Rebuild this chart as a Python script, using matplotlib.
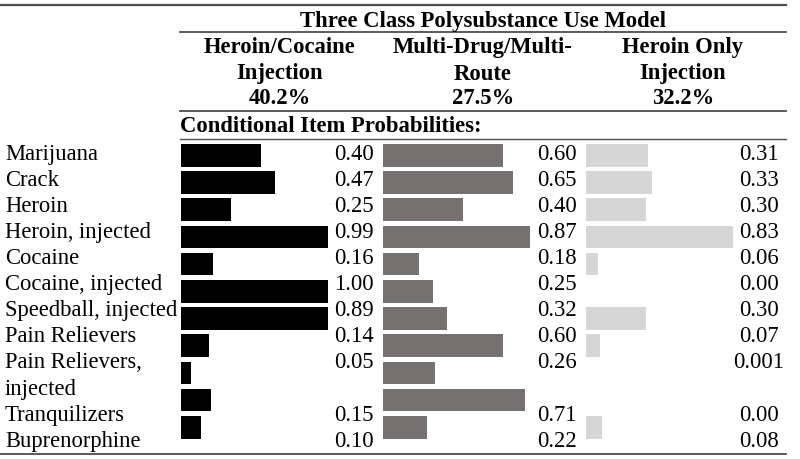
"""
plot.py - three class polysubstance use model, conditional item probabilities
drawn as a table with bars in each class column
"""

import matplotlib
matplotlib.use("Agg")
import matplotlib.pyplot as plt

plt.rcParams["font.family"] = ["Liberation Serif", "DejaVu Serif"]

TITLE = "Three Class Polysubstance Use Model"
SUBTITLE = "Conditional Item Probabilities:"
CLASS_NAMES = ["Heroin/Cocaine\nInjection", "Multi-Drug/Multi-\nRoute", "Heroin Only\nInjection"]
CLASS_PCT = ["40.2%", "27.5%", "32.2%"]
ITEMS = ["Marijuana", "Crack", "Heroin", "Heroin, injected", "Cocaine",
         "Cocaine, injected", "Speedball, injected", "Pain Relievers",
         "Pain Relievers,\ninjected", "Tranquilizers", "Buprenorphine"]

heroin_cocaine = [0.40, 0.47, 0.25, 0.99, 0.16, 1.00, 0.89, 0.14, 0.05, 0.15, 0.10]
multi_drug = [0.60, 0.65, 0.40, 0.87, 0.18, 0.25, 0.32, 0.60, 0.26, 0.71, 0.22]
heroin_only = [0.31, 0.33, 0.30, 0.83, 0.06, 0.00, 0.30, 0.07, 0.001, 0.00, 0.08]
value_text = [
    ["0.40", "0.47", "0.25", "0.99", "0.16", "1.00", "0.89", "0.14", "0.05", "0.15", "0.10"],
    ["0.60", "0.65", "0.40", "0.87", "0.18", "0.25", "0.32", "0.60", "0.26", "0.71", "0.22"],
    ["0.31", "0.33", "0.30", "0.83", "0.06", "0.00", "0.30", "0.07", "0.001", "0.00", "0.08"],
]

COLORS = ["#000000", "#767171", "#d6d6d6"]

W, H = 800, 459
FS = 16.3
LINE_C = "#4d4d4d"

fig = plt.figure(figsize=(W / 100, H / 100), dpi=100)
ax = fig.add_axes([0, 0, 1, 1])
ax.set_xlim(0, W)
ax.set_ylim(H, 0)
ax.axis("off")

# ── rules ──
ax.plot([0, 786], [5, 5], color=LINE_C, lw=1.6)
ax.plot([180, 786], [32, 32], color=LINE_C, lw=1.3)
ax.plot([180, 786], [111, 111], color=LINE_C, lw=1.3)
ax.plot([180, 786], [139, 139], color=LINE_C, lw=1.0)
ax.plot([0, 786], [454, 454], color=LINE_C, lw=1.3)

# ── header ──
ax.text(483, 26.7, TITLE, ha="center", va="baseline", fontsize=FS, fontweight="bold")
col_cx = [280, 483, 683]
head_base = [53.3, 79.5, 104.5]
for cx, name, pct in zip(col_cx, CLASS_NAMES, CLASS_PCT):
    for y, line in zip(head_base, name.split("\n") + [pct]):
        ax.text(cx, y, line, ha="center", va="baseline", fontsize=FS, fontweight="bold")
ax.text(180, 131.7, SUBTITLE, ha="left", va="baseline", fontsize=FS, fontweight="bold")

# ── row labels + values (text rows, one wraps to two lines) ──
pitch = 26.06
base0 = 160
line = 0
val_cx = [354, 557, 759]
for i, item in enumerate(ITEMS):
    parts = item.split("\n")
    for k, p in enumerate(parts):
        ax.text(5, base0 + pitch * (line + k), p, ha="left", va="baseline", fontsize=FS)
    for c in range(3):
        ax.text(val_cx[c], base0 + pitch * line, value_text[c][i],
                ha="center", va="baseline", fontsize=FS)
    line += len(parts)

# ── bars: one small axes per class, 200 px per unit, clipped at cell width ──
bar_left = [181, 383, 586]
cell_w = 147
top_px, bot_px = 141.7, 440.9
series = [heroin_cocaine, multi_drug, heroin_only]
for left, vals, col in zip(bar_left, series, COLORS):
    bax = fig.add_axes([left / W, 1 - bot_px / H, cell_w / W, (bot_px - top_px) / H])
    bax.barh(range(len(vals)), vals, height=0.83, color=col, edgecolor="none")
    bax.set_xlim(0, cell_w / 200)
    bax.set_ylim(len(vals) - 0.5, -0.5)
    bax.axis("off")

fig.savefig("out.png", dpi=100)
